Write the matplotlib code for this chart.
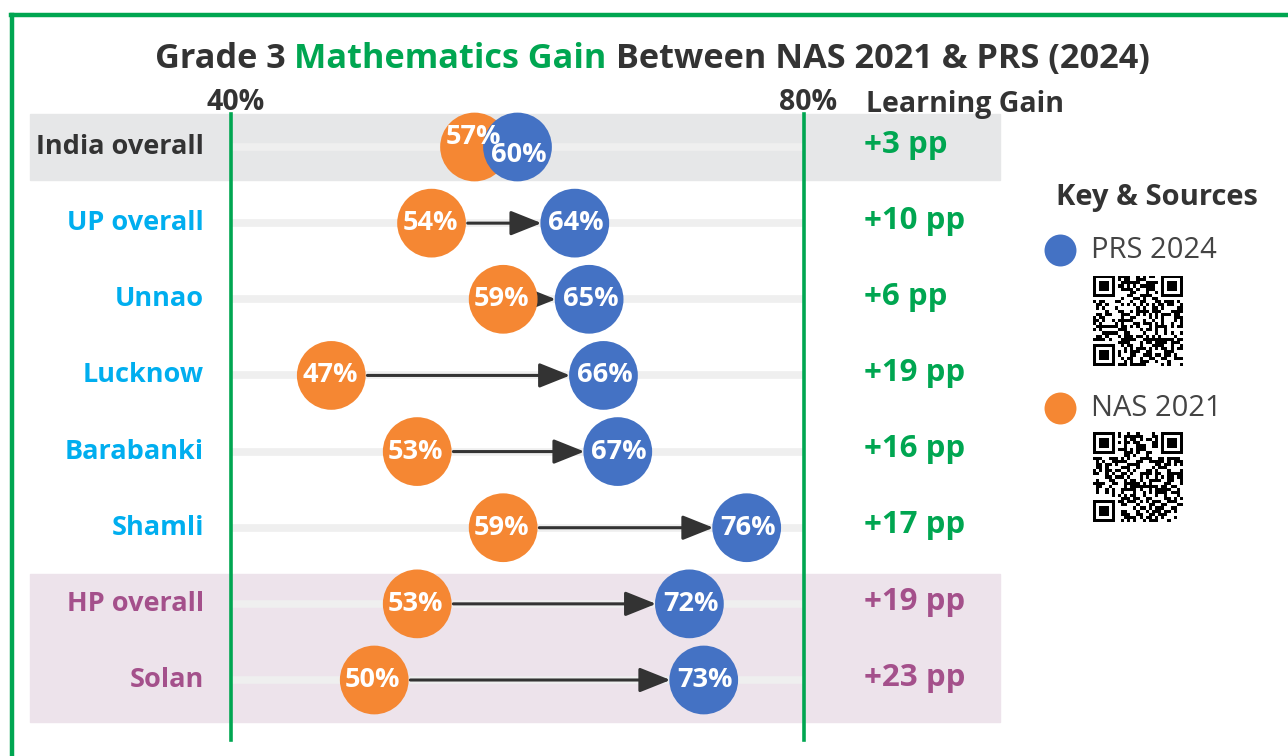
import hashlib
import numpy as np
import matplotlib
matplotlib.use("Agg")
import matplotlib.pyplot as plt
from matplotlib.patches import Rectangle

# data
regions = ["India overall", "UP overall", "Unnao", "Lucknow", "Barabanki",
           "Shamli", "HP overall", "Solan"]
groups = ["India", "UP", "UP", "UP", "UP", "UP", "HP", "HP"]
nas_2021 = [57, 54, 59, 47, 53, 59, 53, 50]
prs_2024 = [60, 64, 65, 66, 67, 76, 72, 73]
gain_pp = [3, 10, 6, 19, 16, 17, 19, 23]
axis_ticks = [40, 80]

ORANGE = "#f58733"
BLUE = "#4472c4"
GREEN = "#00a651"
DARK = "#333333"
label_colors = {"India": DARK, "UP": "#00aeef", "HP": "#a4508b"}
gain_colors = {"India": GREEN, "UP": GREEN, "HP": "#a4508b"}

FONT = "Open Sans"
W, H = 1288, 756

fig = plt.figure(figsize=(W / 100, H / 100), dpi=100)
fig.patch.set_facecolor("white")


def fx(x):
    return x / W


def fy(y):
    return 1 - y / H


# main axes covers the whole figure; 40% -> px 231, 80% -> px 804
px_per = (804 - 231) / 40.0
ax = fig.add_axes([0, 0, 1, 1])
x_left = 40 - 231 / px_per
ax.set_xlim(x_left, 40 + (W - 231) / px_per)
row_px = (680 - 147) / 7.0
y_top = -147 / row_px
ax.set_ylim((H - 147) / row_px, y_top)
ax.axis("off")

# frame
fig.add_artist(plt.Line2D([fx(11), fx(W + 5)], [fy(15), fy(15)], color=GREEN, lw=3.2))
fig.add_artist(plt.Line2D([fx(12), fx(12)], [fy(15), fy(H + 5)], color=GREEN, lw=3.2))

# bands
fig.add_artist(Rectangle((fx(30), fy(180)), fx(1000) - fx(30), fy(114) - fy(180),
                         transform=fig.transFigure, color="#e6e7e8", zorder=0))
fig.add_artist(Rectangle((fx(30), fy(722)), fx(1000) - fx(30), fy(574) - fy(722),
                         transform=fig.transFigure, color="#ede3eb", zorder=0))

ys = np.arange(len(regions))

# tracks
for y in ys:
    ax.plot(axis_ticks, [y, y], color="#efefef", lw=5.5, solid_capstyle="butt", zorder=1)

# 40% / 80% lines
for t in axis_ticks:
    ax.plot([t, t], [y_top + 114 / row_px, y_top + 740 / row_px],
            color=GREEN, lw=2.6, zorder=2)
    ax.text(t + 0.3, y_top + 103 / row_px, f"{t}%", ha="center", va="center",
            fontsize=20.5, fontweight="bold", color=DARK, family=FONT)

ax.text(x_left + 866 / px_per, y_top + 105 / row_px, "Learning Gain", ha="left",
        va="center", fontsize=20.5, fontweight="bold", color=DARK, family=FONT)

# arrows
for y, a, b in zip(ys, nas_2021, prs_2024):
    if (b - a) * px_per < 70:
        continue
    ax.annotate("", xy=(b, y), xytext=(a, y),
                arrowprops=dict(arrowstyle="-|>,head_length=0.95,head_width=0.38",
                                color=DARK, lw=2.2, shrinkA=26, shrinkB=24,
                                mutation_scale=20),
                zorder=3)

# dots
ax.scatter(nas_2021, ys, s=2450, color=ORANGE, edgecolors="none", zorder=4)
ax.scatter(prs_2024, ys, s=2450, color=BLUE, edgecolors="none", zorder=5)

for y, a, b in zip(ys, nas_2021, prs_2024):
    close = (b - a) * px_per < 70
    ax.annotate(f"{a}%", (a, y), xytext=(-1, 7 if close else 0), textcoords="offset points",
                ha="center", va="center", fontsize=19.5, fontweight="bold",
                color="white", family=FONT, zorder=6)
    ax.annotate(f"{b}%", (b, y), xytext=(1, -6 if close else 0), textcoords="offset points",
                ha="center", va="center", fontsize=19.5, fontweight="bold",
                color="white", family=FONT, zorder=6)

# row labels and gains
x_label = x_left + 204 / px_per
x_gain = x_left + 864 / px_per
for y, name, g, pp in zip(ys, regions, groups, gain_pp):
    ax.text(x_label, y, name, ha="right", va="center", fontsize=19.5, fontweight="bold",
            color=label_colors[g], family=FONT)
    ax.text(x_gain, y - 0.03, f"+{pp} pp", ha="left", va="center", fontsize=22.5,
            fontweight="bold", color=gain_colors[g], family=FONT)

# title in three colours
title_parts = [("Grade 3 ", DARK), ("Mathematics Gain", GREEN),
               (" Between NAS 2021 & PRS (2024)", DARK)]
renderer = fig.canvas.get_renderer()
pieces = []
x = fx(157)
for s, c in title_parts:
    t = fig.text(x, fy(68), s, ha="left", va="baseline", fontsize=24.7,
                 fontweight="bold", color=c, family=FONT)
    bb = t.get_window_extent(renderer)
    x += bb.width / W
    pieces.append(t)
total = x - fx(157)
shift = fx(652) - (fx(157) + total / 2)
for t in pieces:
    px0, py0 = t.get_position()
    t.set_position((px0 + shift, py0))

# legend
fig.text(fx(1157), fy(197), "Key & Sources", ha="center", va="center", fontsize=21,
         fontweight="bold", color=DARK, family=FONT)
leg = [("PRS 2024", BLUE, 250, 276), ("NAS 2021", ORANGE, 408, 432)]
for name, c, yy, qy in leg:
    fig.add_artist(plt.Line2D([fx(1060)], [fy(yy)], marker="o", markersize=23,
                              color=c, markeredgewidth=0))
    fig.text(fx(1091), fy(yy), name, ha="left", va="center", fontsize=21,
             color="#444444", family=FONT)

    n = 29
    bits = []
    h = name.encode()
    while len(bits) < n * n:
        h = hashlib.sha256(h).digest()
        for byte in h:
            for k in range(8):
                bits.append((byte >> k) & 1)
    m = np.array(bits[:n * n]).reshape(n, n)
    for r, cc in [(0, 0), (0, n - 7), (n - 7, 0)]:
        r0, c0 = max(r - 1, 0), max(cc - 1, 0)
        m[r0:r + 8, c0:cc + 8] = 0
        m[r:r + 7, cc:cc + 7] = 1
        m[r + 1:r + 6, cc + 1:cc + 6] = 0
        m[r + 2:r + 5, cc + 2:cc + 5] = 1
    qax = fig.add_axes([fx(1093), fy(qy + 90), 90 / W, 90 / H])
    qax.imshow(m, cmap="gray_r", interpolation="nearest", aspect="auto")
    qax.axis("off")

fig.savefig("out.png", dpi=100)
